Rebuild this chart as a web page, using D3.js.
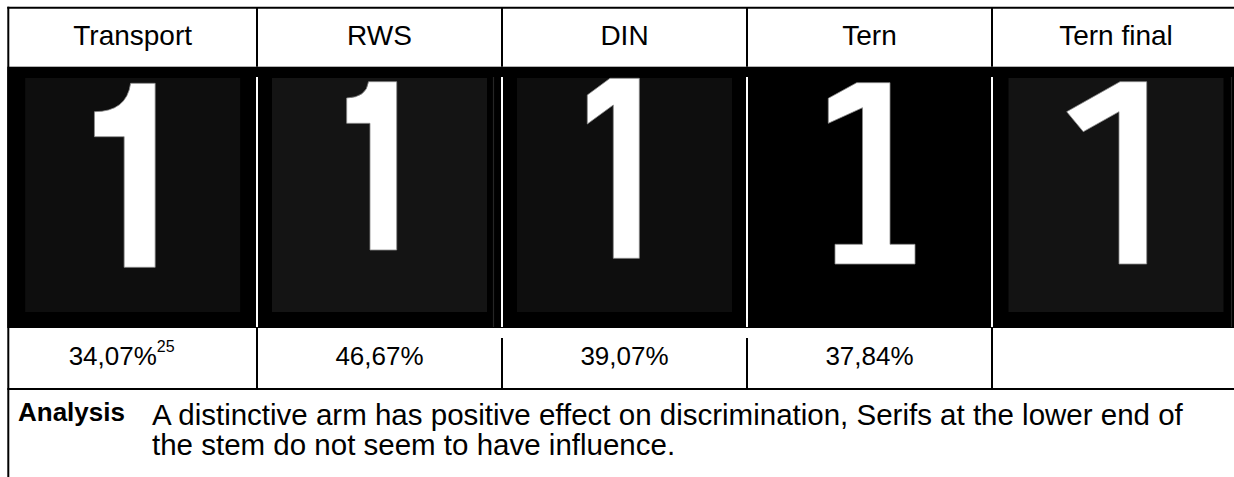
<!DOCTYPE html>
<html>
<head>
<meta charset="utf-8">
<script src="https://cdn.jsdelivr.net/npm/d3@7"></script>
<style>
  html, body { margin: 0; padding: 0; background: #fff; }
  svg { display: block; font-family: "Liberation Sans", Arial, sans-serif; }
</style>
</head>
<body>
<div id="chart"></div>
<script>
// table content
const fonts = ['Transport', 'RWS', 'DIN', 'Tern', 'Tern final'];
const scores = [34.07, 46.67, 39.07, 37.84, null];
const footnotes = ['25', '', '', '', ''];
const analysisLabel = 'Analysis';
const analysisLines = [
  'A distinctive arm has positive effect on discrimination, Serifs at the lower end of',
  'the stem do not seem to have influence.'
];

// glyph outlines of the digit "1", x relative to column centre, y relative to plate top
const glyphs = {
  'Transport': 'M22.5,5.3 L-2,5.3 Q-6,33.7 -38.2,33.7 L-38.2,58.7 L-8.5,58.7 L-8.5,189.3 L22.5,189.3 Z',
  'RWS': 'M17.2,3.7 L-11,3.7 Q-13,19.5 -32.8,20 L-32.8,45.3 L-9.5,45.3 L-9.5,172 L17.2,172 Z',
  'DIN': 'M14.8,0.3 L-14.5,0.3 L-37.2,17 L-37.2,46 L-11.2,27 L-11.2,180.3 L14.8,180.3 Z',
  'Tern': 'M20.5,4.7 L-12.8,4.7 L-41.2,20.3 L-41.2,45.3 L-7,29.7 L-7,166.3 L-34.5,166.3 L-34.5,186 L45.5,186 L45.5,166.3 L20.5,166.3 Z',
  'Tern final': 'M30.7,3.7 L4,3.7 L-49.3,33.7 L-32.7,53.7 L3,33.7 L3,186 L30.7,186 Z'
};

const plateFill = { 'Transport': '#0e0e0e', 'RWS': '#141414', 'DIN': '#0e0e0e', 'Tern': null, 'Tern final': '#131313' };
const plateEdge = { 'RWS': true, 'Tern final': true };

const W = 1234, H = 477;
const tblLeft = 8.3, tblRight = 1240, tblTop = 7.7;
const headBottom = 66.7, imgBottom = 328, valBottom = 389;
const plate = { top: 78, w: 215, h: 234 };

const locale = d3.formatLocale({ decimal: ',', thousands: '.', grouping: [3], currency: ['', ''] });
const fmt = v => v == null ? '' : locale.format('.2f')(v) + '%';

// column dividers
const divider = d3.scaleLinear().domain([1, 4]).range([257, 992]);
const x0 = i => i === 0 ? tblLeft : divider(i);
const x1 = i => i === fonts.length - 1 ? tblRight : divider(i + 1);
const cx = i => (x0(i) + x1(i)) / 2;

const svg = d3.select('#chart').append('svg').attr('width', W).attr('height', H);

// image row background
svg.append('rect')
  .attr('x', tblLeft - 1).attr('y', headBottom)
  .attr('width', tblRight - tblLeft + 1).attr('height', imgBottom - headBottom)
  .attr('fill', '#000');

const cells = svg.selectAll('g.cell').data(fonts).join('g').attr('class', 'cell');

cells.filter(d => plateFill[d])
  .append('rect')
  .attr('x', d => cx(fonts.indexOf(d)) - plate.w / 2)
  .attr('y', plate.top)
  .attr('width', plate.w).attr('height', plate.h)
  .attr('fill', d => plateFill[d]);

cells.filter(d => plateEdge[d])
  .append('line')
  .attr('x1', d => x1(fonts.indexOf(d)) - 8.5).attr('x2', d => x1(fonts.indexOf(d)) - 8.5)
  .attr('y1', 77).attr('y2', 327)
  .attr('stroke', '#262626').attr('stroke-width', 1.2);

cells.append('path')
  .attr('d', d => glyphs[d])
  .attr('transform', (d, i) => `translate(${cx(i)},${plate.top})`)
  .attr('fill', '#fff')
  .attr('stroke', '#8c8c8c').attr('stroke-width', 0.8);

// white separators between images
svg.selectAll('line.sep').data(d3.range(1, fonts.length)).join('line')
  .attr('class', 'sep')
  .attr('x1', divider).attr('x2', divider)
  .attr('y1', 77).attr('y2', 327)
  .attr('stroke', '#fff').attr('stroke-width', 2);

// header text
cells.append('text')
  .attr('x', (d, i) => cx(i)).attr('y', 45)
  .attr('text-anchor', 'middle')
  .attr('font-size', 28)
  .text(d => d);

// score row
const scoreText = svg.selectAll('text.score').data(scores).join('text')
  .attr('class', 'score')
  .attr('x', (d, i) => cx(i) - (footnotes[i] ? 11 : 0)).attr('y', 365)
  .attr('text-anchor', 'middle')
  .attr('font-size', 26);
scoreText.append('tspan').text(d => fmt(d));
scoreText.filter((d, i) => footnotes[i])
  .append('tspan')
  .attr('font-size', 16).attr('dy', -13)
  .text(d => footnotes[scores.indexOf(d)]);

// grid lines
const lines = svg.append('g').attr('stroke', '#000').attr('stroke-width', 2);
lines.append('line').attr('x1', tblLeft - 1).attr('x2', tblRight).attr('y1', tblTop).attr('y2', tblTop);
lines.append('line').attr('x1', tblLeft).attr('x2', tblLeft).attr('y1', tblTop - 1).attr('y2', H);
lines.append('line').attr('x1', tblLeft - 1).attr('x2', tblRight).attr('y1', valBottom).attr('y2', valBottom);
lines.selectAll('line.head').data(d3.range(1, fonts.length)).join('line')
  .attr('class', 'head')
  .attr('x1', divider).attr('x2', divider)
  .attr('y1', tblTop).attr('y2', headBottom);
lines.selectAll('line.val').data(d3.range(1, fonts.length)).join('line')
  .attr('class', 'val')
  .attr('x1', divider).attr('x2', divider)
  .attr('y1', i => (i === 2 || i === 3) ? 338 : imgBottom).attr('y2', valBottom);

// analysis row
svg.append('text')
  .attr('x', 18).attr('y', 421)
  .attr('font-size', 26).attr('font-weight', 'bold')
  .text(analysisLabel);

svg.append('g').selectAll('text').data(analysisLines).join('text')
  .attr('x', 152).attr('y', (d, i) => 425 + i * 30)
  .attr('font-size', 29.5)
  .text(d => d);
</script>
</body>
</html>
